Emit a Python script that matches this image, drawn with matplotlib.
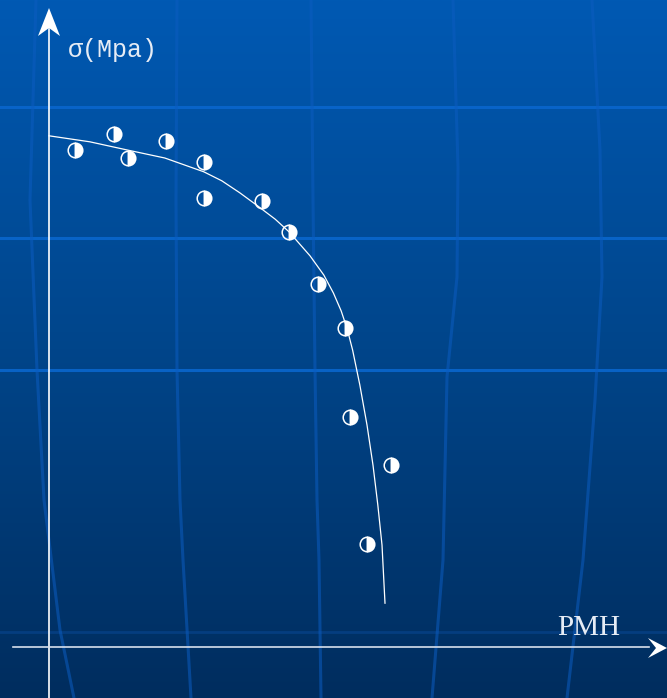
import matplotlib
matplotlib.use("Agg")
import matplotlib.pyplot as plt
import numpy as np
from matplotlib.colors import LinearSegmentedColormap

# measured points (PMH, sigma) in arbitrary units
pmh = [0.43, 1.08, 1.32, 1.95, 2.58, 2.58, 3.55, 4.00, 4.48, 4.93, 5.02, 5.70, 5.30]
sigma = [8.28, 8.55, 8.15, 8.43, 8.08, 7.48, 7.43, 6.92, 6.05, 5.32, 3.83, 3.03, 1.72]

# fitted curve
fit_pmh = [0.00, 0.68, 1.32, 1.93, 2.58, 2.88, 3.18, 3.48, 3.77, 4.00, 4.35,
           4.58, 4.74, 4.87, 4.97, 5.06, 5.18, 5.30, 5.40, 5.48, 5.55, 5.60]
fit_sigma = [8.52, 8.42, 8.28, 8.15, 7.92, 7.77, 7.57, 7.35, 7.13, 6.92, 6.52,
             6.20, 5.90, 5.60, 5.30, 4.95, 4.37, 3.70, 3.03, 2.37, 1.70, 0.73]

x_label = "PMH"
y_label = "σ(Mpa)"

W, H = 667, 698
fig = plt.figure(figsize=(W / 100, H / 100), dpi=100)

# background: gradient + decorative globe grid (pixel coords)
bg = fig.add_axes([0, 0, 1, 1], zorder=0)
bg.set_xlim(0, W)
bg.set_ylim(H, 0)
bg.axis("off")
cmap = LinearSegmentedColormap.from_list("bg", ["#0059b3", "#00458a", "#002d5e"])
grad = np.linspace(0, 1, 256).reshape(-1, 1)
bg.imshow(grad, cmap=cmap, aspect="auto", extent=[0, W, H, 0])

for yy in [107, 238, 370]:
    bg.plot([0, W], [yy, yy], color="#0a66cc", lw=2.2, alpha=0.9)
bg.plot([0, W], [632, 632], color="#0a4a99", lw=2.0, alpha=0.5)

vlines = [
    ([36, 30, 37, 44, 60, 74], [0, 200, 370, 500, 630, 698]),
    ([177, 176, 177, 180, 183, 191], [0, 200, 370, 500, 560, 698]),
    ([311, 313, 315, 317, 319, 321], [0, 200, 370, 500, 560, 698]),
    ([453, 458, 457, 447, 443, 432], [0, 167, 277, 377, 560, 698]),
    ([592, 600, 602, 595, 583, 567], [0, 150, 277, 400, 560, 698]),
]
for xs, ys in vlines:
    bg.plot(xs, ys, color="#0b5cc0", lw=2.2, alpha=0.55)

# main axes in data units
ax = fig.add_axes([0, 0, 1, 1], zorder=1)
ax.patch.set_alpha(0)
ax.set_xlim(-49 / 60, (W - 49) / 60)
ax.set_ylim((647 - H) / 60, 647 / 60)
ax.axis("off")

# axis lines with stealth arrowheads
ax.plot([0, 0], [(647 - H) / 60, 10.3], color="white", lw=1.2)
ax.plot([-0.6, 10.0], [0, 0], color="#d8e0ec", lw=1.2)
ax.fill([49, 38, 49, 60], [8, 36, 28, 36], color="white", lw=0,
        transform=bg.transData)
ax.fill([667, 648, 656, 648], [648, 638, 648, 658], color="white", lw=0,
        transform=bg.transData)

ax.plot(fit_pmh, fit_sigma, color="white", lw=0.9)
ax.plot(pmh, sigma, linestyle="none", marker="o", markersize=10.5,
        fillstyle="right", markerfacecolor="white", markerfacecoloralt="none",
        markeredgecolor="white", markeredgewidth=1.1)

ax.text(0.32, 9.95, y_label, color="#e6ecf5", fontsize=18,
        family="Liberation Mono", va="center", ha="left")
ax.text(9.0, 0.32, x_label, color="#e6ecf5", fontsize=21,
        family="Liberation Serif", va="center", ha="center")

fig.savefig("out.png", dpi=100)
